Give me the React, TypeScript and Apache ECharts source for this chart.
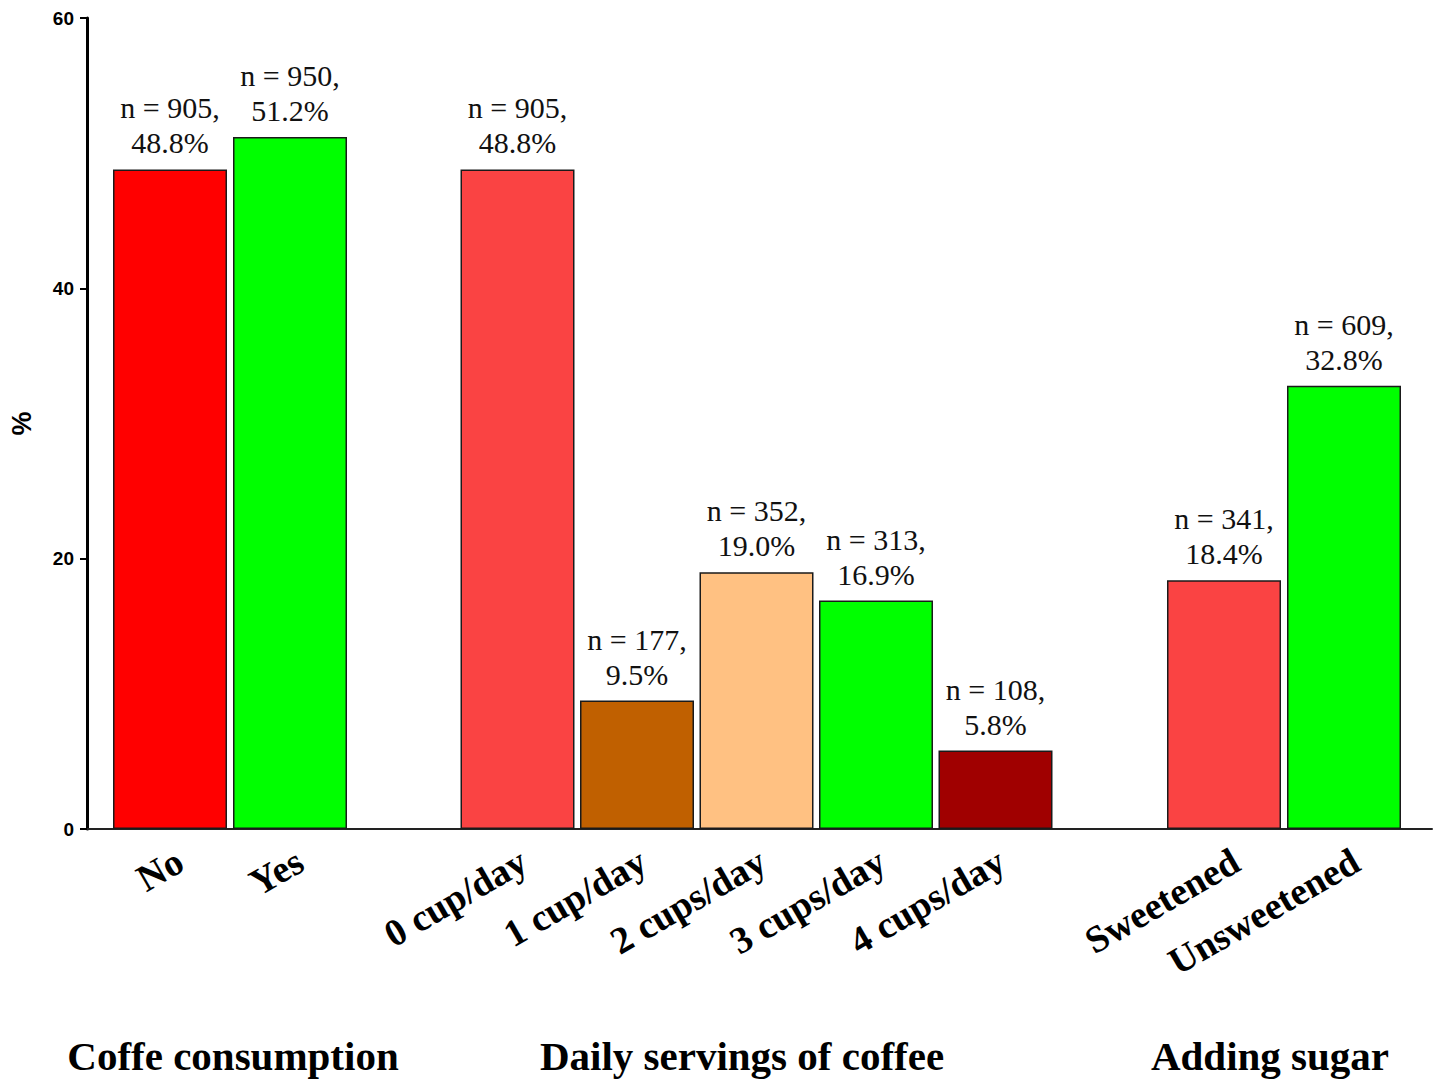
import React, { useEffect, useRef } from "react";
import * as echarts from "echarts";

const groupTitles = ["Coffe consumption", "Daily servings of coffee", "Adding sugar"];

const consumptionCats = ["No", "Yes"];
const consumptionPct = [48.8, 51.2];
const consumptionN = [905, 950];
const consumptionColors = ["#ff0000", "#00ff00"];

const servingsCats = ["0 cup/day", "1 cup/day", "2 cups/day", "3 cups/day", "4 cups/day"];
const servingsPct = [48.8, 9.5, 19.0, 16.9, 5.8];
const servingsN = [905, 177, 352, 313, 108];
const servingsColors = ["#fa4343", "#c06000", "#ffc182", "#00ff00", "#a00000"];

const sugarCats = ["Sweetened", "Unsweetened"];
const sugarPct = [18.4, 32.8];
const sugarN = [341, 609];
const sugarColors = ["#fa4343", "#00ff00"];

const yTicks = [0, 20, 40, 60];

const serif = "'Liberation Serif', 'Times New Roman', serif";
const sans = "'Liberation Sans', Arial, sans-serif";

export default function App() {
  const ref = useRef<HTMLDivElement>(null);

  useEffect(() => {
    if (!ref.current) return;
    const chart = echarts.init(ref.current, undefined, { renderer: "svg" });

    const top = 18;
    const height = 811;
    const groupBoxes = [
      { left: 110, width: 240, shift: 10 },
      { left: 457.75, width: 597.5, shift: 6 },
      { left: 1164, width: 240, shift: 12 },
    ];

    const groups = [
      { cats: consumptionCats, pct: consumptionPct, n: consumptionN, colors: consumptionColors },
      { cats: servingsCats, pct: servingsPct, n: servingsN, colors: servingsColors },
      { cats: sugarCats, pct: sugarPct, n: sugarN, colors: sugarColors },
    ];

    const grids: any[] = [{ left: 85, top, width: 1347, height }];
    const xAxes: any[] = [
      {
        gridIndex: 0,
        type: "category",
        data: [""],
        axisLine: { show: true, lineStyle: { color: "#222", width: 2 } },
        axisTick: { show: false },
        axisLabel: { show: false },
      },
    ];
    const yAxes: any[] = [
      {
        gridIndex: 0,
        type: "value",
        min: yTicks[0],
        max: yTicks[yTicks.length - 1],
        interval: yTicks[1] - yTicks[0],
        name: "%",
        nameLocation: "middle",
        nameRotate: 90,
        nameGap: 52,
        nameTextStyle: { fontFamily: sans, fontWeight: "bold", fontSize: 27, color: "#000" },
        axisLine: { show: true, lineStyle: { color: "#000", width: 3 } },
        axisTick: { show: true, length: 7, lineStyle: { color: "#000", width: 2 } },
        axisLabel: { fontFamily: sans, fontWeight: "bold", fontSize: 19, color: "#000", margin: 13 },
        splitLine: { show: false },
      },
    ];
    const series: any[] = [];

    groups.forEach((g, i) => {
      const box = groupBoxes[i];
      const gi = grids.length;
      grids.push({ left: box.left, width: box.width, top, height });
      xAxes.push({
        gridIndex: gi,
        type: "category",
        data: g.cats,
        axisLine: { show: false },
        axisTick: { show: false },
        axisLabel: { show: false },
      });
      yAxes.push({
        gridIndex: gi,
        type: "value",
        min: yTicks[0],
        max: yTicks[yTicks.length - 1],
        show: false,
      });
      series.push({
        type: "bar",
        xAxisIndex: gi,
        yAxisIndex: gi,
        barWidth: 114,
        data: g.pct.map((v, k) => ({
          value: v,
          itemStyle: { color: g.colors[k], borderColor: "#1a1a1a", borderWidth: 1.5 },
          label: { formatter: `n = ${g.n[k]},\n${v.toFixed(1)}%` },
        })),
        label: {
          show: true,
          position: "top",
          distance: 9,
          fontFamily: serif,
          fontSize: 30,
          lineHeight: 35,
          color: "#111",
          align: "center",
        },
      });
      const li = grids.length;
      grids.push({ left: box.left + box.shift, width: box.width, top, height });
      xAxes.push({
        gridIndex: li,
        type: "category",
        data: g.cats,
        axisLine: { show: false },
        axisTick: { show: false },
        axisLabel: {
          rotate: 30,
          margin: 29,
          interval: 0,
          fontFamily: serif,
          fontWeight: "bold",
          fontSize: 38,
          color: "#000",
        },
      });
      yAxes.push({
        gridIndex: li,
        type: "value",
        min: yTicks[0],
        max: yTicks[yTicks.length - 1],
        show: false,
      });
    });

    const titleCenters = [233, 742, 1270];
    const graphic = groupTitles.map((t, i) => ({
      type: "text",
      x: titleCenters[i],
      y: 1056,
      style: {
        text: t,
        fontFamily: serif,
        fontWeight: "bold",
        fontSize: 41,
        fill: "#000",
        textAlign: "center",
        textVerticalAlign: "middle",
      },
    }));

    chart.setOption({
      animation: false,
      backgroundColor: "#fff",
      grid: grids,
      xAxis: xAxes,
      yAxis: yAxes,
      series,
      graphic,
    });

    return () => chart.dispose();
  }, []);

  return (
    <div
      ref={ref}
      style={{ position: "absolute", left: 0, top: 0, width: 1441, height: 1087, background: "#fff" }}
    />
  );
}
